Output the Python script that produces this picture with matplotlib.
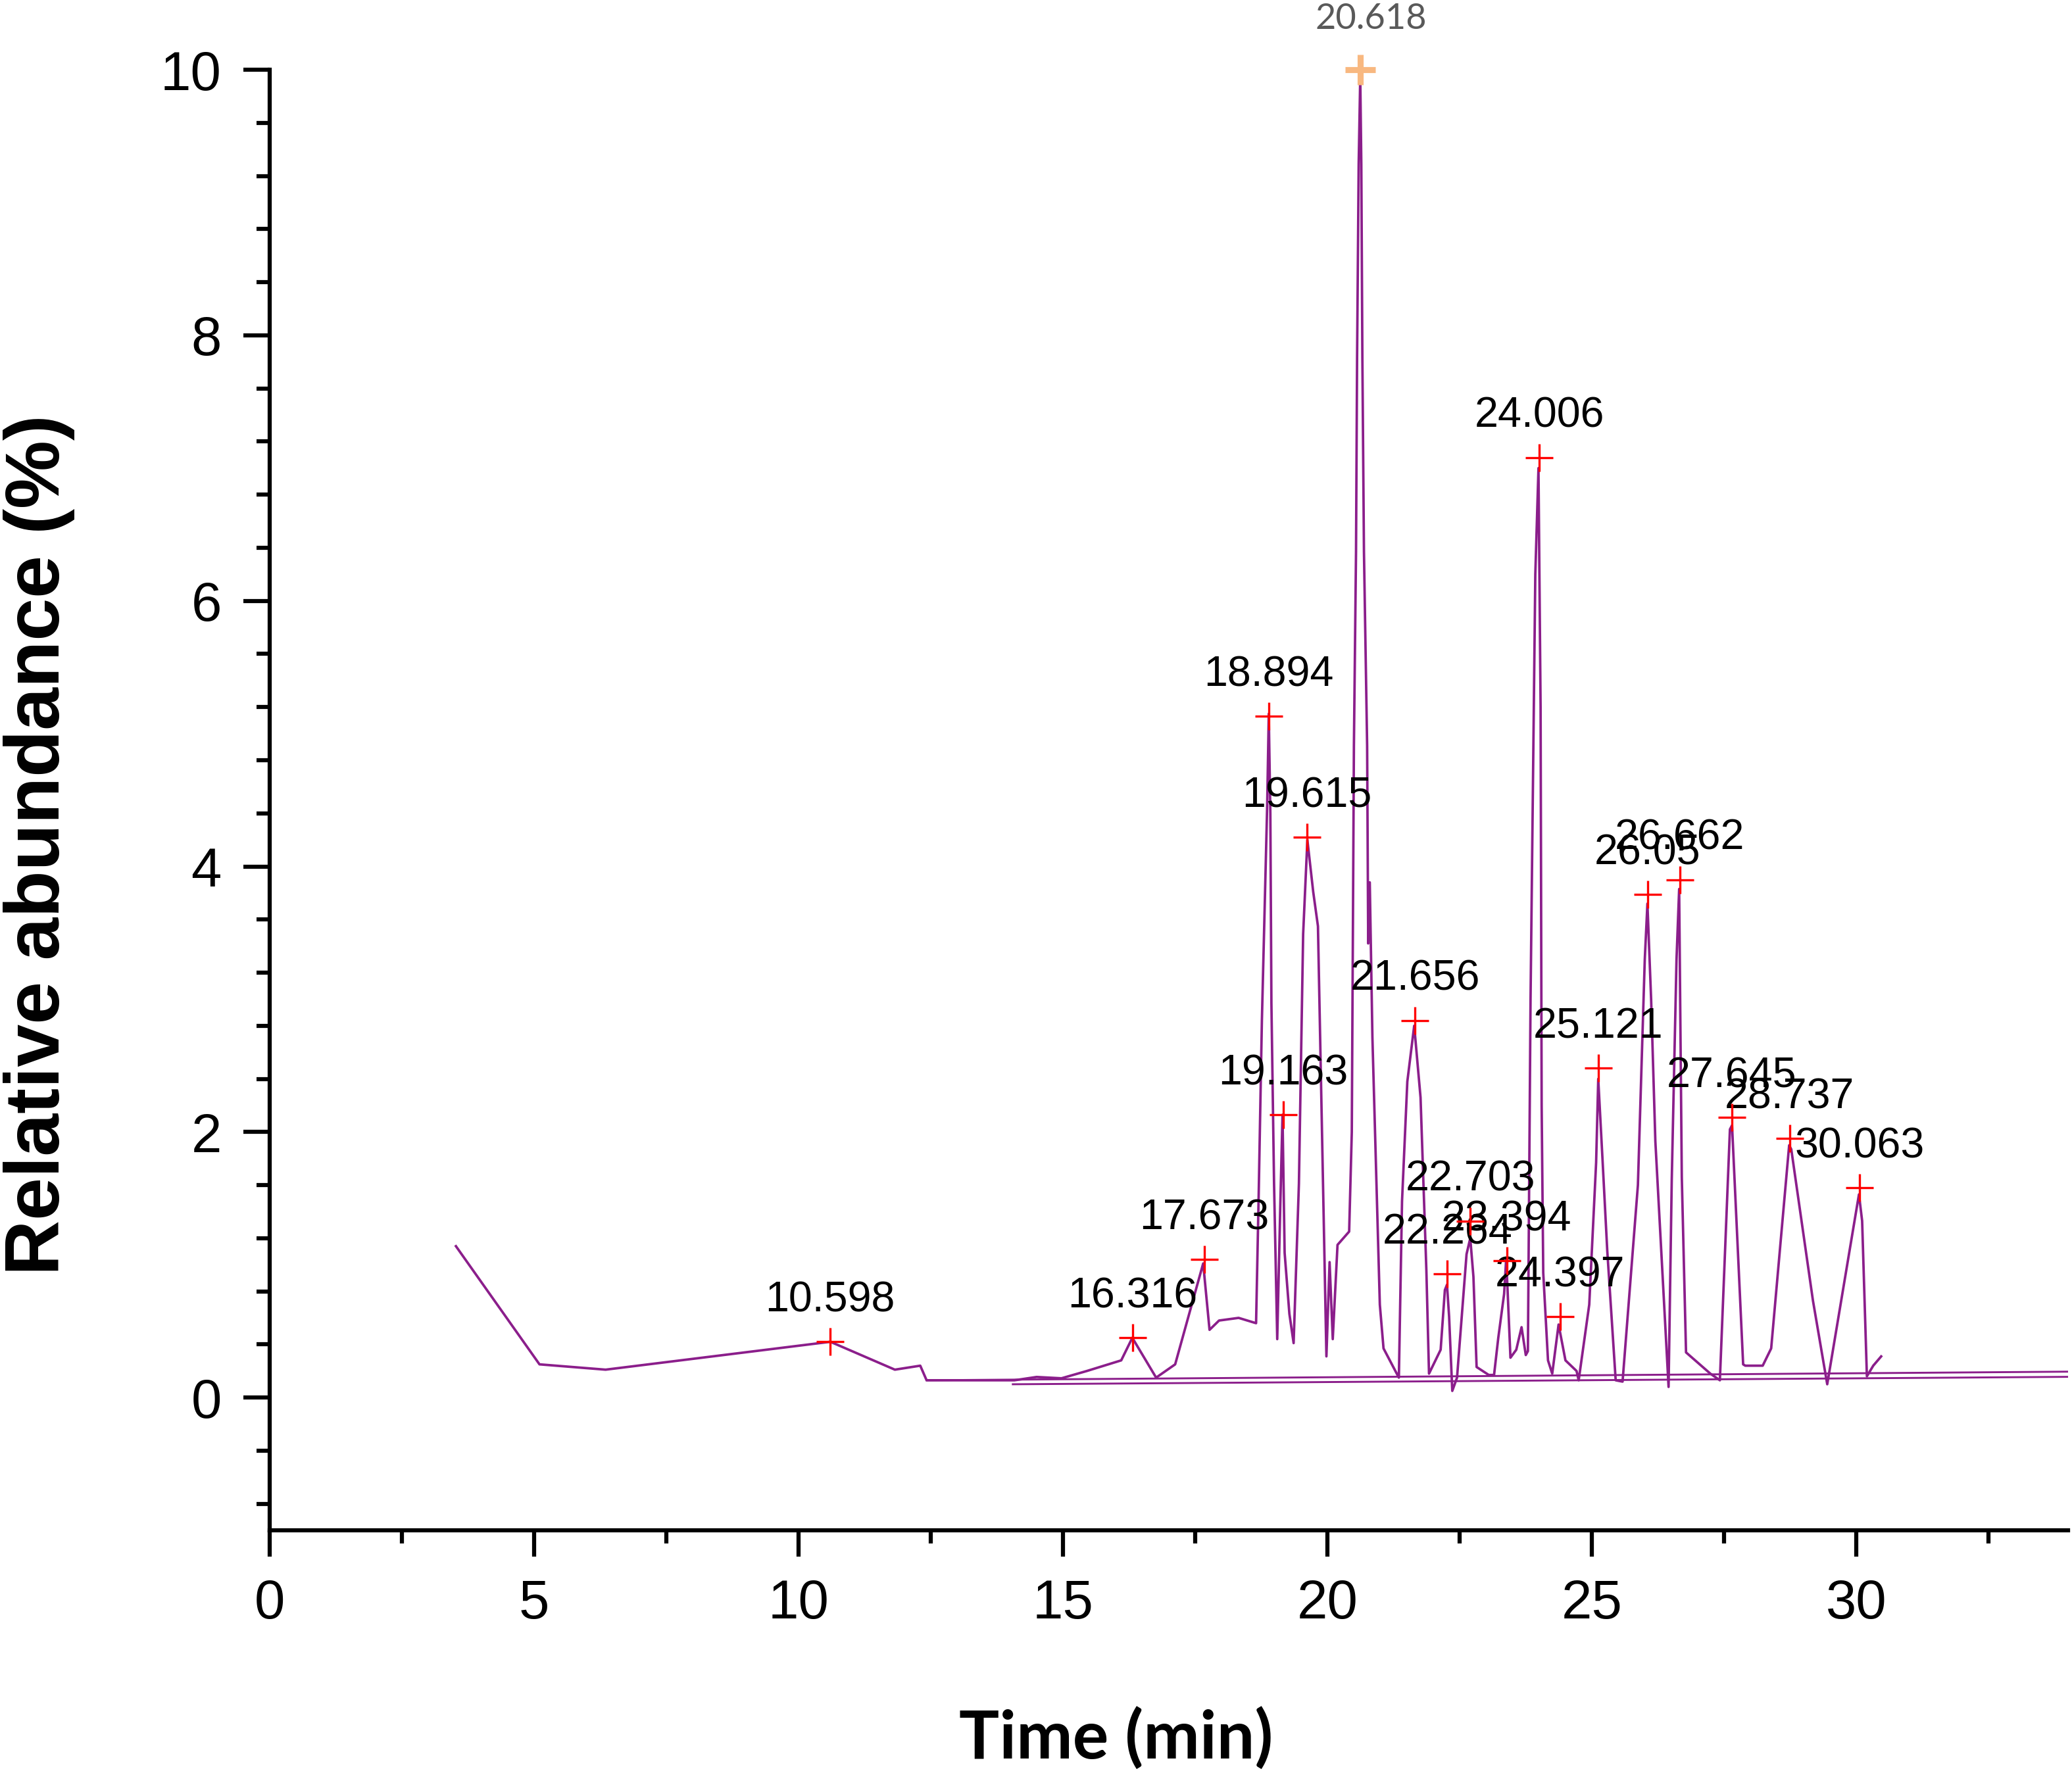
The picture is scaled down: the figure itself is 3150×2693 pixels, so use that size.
import matplotlib
matplotlib.use("Agg")
import matplotlib.pyplot as plt
from matplotlib.ticker import MultipleLocator

# chromatogram trace (time in min, relative abundance in %)
trace_x = [3.52, 5.10, 6.35, 10.60, 11.82, 12.30, 12.42, 14.08, 14.50, 14.97,
           15.45, 16.10, 16.31, 16.76, 17.12, 17.65, 17.77, 17.95, 18.32, 18.65,
           18.70, 18.76, 18.86, 18.89, 18.92, 18.94, 18.99, 19.05, 19.11, 19.15,
           19.19, 19.28, 19.36, 19.46, 19.54, 19.62, 19.73, 19.82, 19.90, 19.98,
           20.04, 20.10, 20.19, 20.41, 20.46, 20.50, 20.54, 20.56, 20.59, 20.62,
           20.64, 20.66, 20.69, 20.75, 20.77, 20.80, 20.85, 20.99, 21.06, 21.35,
           21.41, 21.51, 21.64, 21.76, 21.87, 21.92, 22.14, 22.22, 22.26, 22.30,
           22.36, 22.45, 22.63, 22.70, 22.76, 22.82, 23.05, 23.15, 23.23, 23.34,
           23.38, 23.46, 23.57, 23.67, 23.75, 23.79, 23.84, 23.93, 23.99, 24.03,
           24.05, 24.08, 24.17, 24.25, 24.37, 24.50, 24.71, 24.75, 24.95, 25.08,
           25.12, 25.20, 25.29, 25.45, 25.58, 25.87, 26.00, 26.05, 26.12, 26.20,
           26.45, 26.51, 26.60, 26.65, 26.70, 26.78, 27.24, 27.42, 27.61, 27.65,
           27.86, 27.90, 28.23, 28.39, 28.73, 28.77, 29.18, 29.45, 30.05, 30.11,
           30.20, 30.32, 30.47]
trace_y = [1.14, 0.25, 0.21, 0.42, 0.21, 0.24, 0.13, 0.13, 0.155, 0.145,
           0.20, 0.28, 0.45, 0.15, 0.25, 1.01, 0.51, 0.58, 0.60, 0.56,
           1.54, 2.84, 4.46, 5.15, 4.40, 2.97, 1.61, 0.44, 1.48, 2.13,
           1.09, 0.63, 0.41, 1.61, 3.49, 4.20, 3.81, 3.55, 1.93, 0.31,
           1.02, 0.44, 1.15, 1.25, 2.00, 4.91, 6.37, 7.83, 9.29, 9.95,
           9.29, 7.83, 6.37, 4.91, 3.42, 3.88, 2.71, 0.70, 0.37, 0.15,
           1.48, 2.38, 2.80, 2.26, 0.96, 0.18, 0.36, 0.81, 0.85, 0.61,
           0.05, 0.15, 1.08, 1.20, 0.91, 0.23, 0.17, 0.17, 0.45, 0.78,
           1.05, 0.30, 0.36, 0.53, 0.32, 0.35, 3.00, 6.20, 7.00, 5.20,
           2.20, 0.94, 0.28, 0.18, 0.55, 0.28, 0.20, 0.13, 0.70, 1.77,
           2.40, 1.80, 1.11, 0.13, 0.12, 1.60, 3.30, 3.72, 3.00, 1.93,
           0.08, 1.64, 3.30, 3.83, 1.66, 0.34, 0.18, 0.13, 2.02, 2.05,
           0.25, 0.24, 0.24, 0.37, 1.90, 1.87, 0.73, 0.10, 1.53, 1.33,
           0.16, 0.24, 0.31]

# baseline segments
base1_x = [12.42, 34.0]
base1_y = [0.13, 0.195]
base2_x = [14.05, 34.0]
base2_y = [0.10, 0.156]

# labelled peaks
peak_labels = ["10.598", "16.316", "17.673", "18.894", "19.163", "19.615",
               "21.656", "22.264", "22.703", "23.394", "24.006", "24.397",
               "25.121", "26.05", "26.662", "27.645", "28.737", "30.063"]
peak_y = [0.42, 0.45, 1.04, 5.13, 2.13, 4.22, 2.84, 0.93, 1.33, 1.03,
          7.08, 0.61, 2.48, 3.79, 3.90, 2.11, 1.95, 1.58]
top_label = "20.618"
top_y = 10.0

purple = "#8b1e8b"

fig = plt.figure(figsize=(10.5, 2693 / 300), dpi=300)
ax = fig.add_axes([0.1302, 0.1359, 0.998 - 0.1302, 0.9606 - 0.1359])

ax.plot(base1_x, base1_y, color=purple, lw=0.7)
ax.plot(base2_x, base2_y, color=purple, lw=0.7)
ax.plot(trace_x, trace_y, color=purple, lw=0.9)

px = [float(s) for s in peak_labels]
ax.plot(px, peak_y, ls="none", marker="+", ms=10, mew=0.8, color="red",
        clip_on=False, zorder=4)
for s, x, y in zip(peak_labels, px, peak_y):
    ax.annotate(s, (x, y), xytext=(0, 11), textcoords="offset points",
                ha="center", va="baseline", fontsize=15.5,
                family="Liberation Sans", color="black",
                annotation_clip=False)

tx = float(top_label)
ax.plot([tx], [top_y], ls="none", marker="+", ms=11, mew=2.2,
        color="#f8b880", clip_on=False, zorder=5)
ax.annotate(top_label, (tx, top_y), xytext=(4, 15), textcoords="offset points",
            ha="center", va="baseline", fontsize=13, family="Lato",
            color="#595959", annotation_clip=False)

ax.set_xlim(0, 34)
ax.set_ylim(-1, 10)
ax.xaxis.set_major_locator(MultipleLocator(5))
ax.xaxis.set_minor_locator(MultipleLocator(2.5))
ax.set_yticks([0, 2, 4, 6, 8, 10])
ax.yaxis.set_minor_locator(MultipleLocator(0.4))

for side in ["top", "right"]:
    ax.spines[side].set_visible(False)
for side in ["left", "bottom"]:
    ax.spines[side].set_linewidth(1.5)

ax.tick_params(which="major", direction="out", length=9.6, width=1.5,
               pad=8, labelsize=20)
ax.tick_params(which="minor", direction="out", length=4.8, width=1.5)
for lab in ax.get_xticklabels() + ax.get_yticklabels():
    lab.set_family("Liberation Sans")

fig.text(0.5387, 0.0186, "Time (min)", ha="center", va="center",
         fontsize=24.5, fontweight="bold", family="Lato")
fig.text(0.019, 0.523, "Relative abundance (%)", ha="center", va="center",
         rotation=90, fontsize=28, fontweight="bold",
         family="Liberation Sans")

fig.savefig("out.png", dpi=300)
